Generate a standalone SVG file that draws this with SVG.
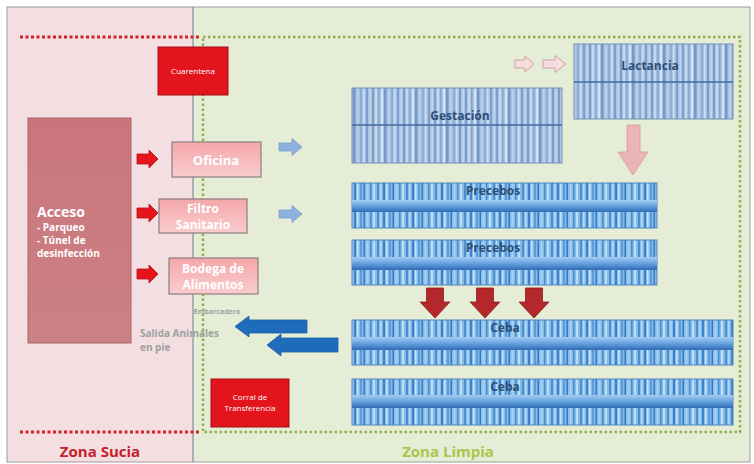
<svg xmlns="http://www.w3.org/2000/svg" width="754" height="464" viewBox="0 0 754 464">
<defs>
<pattern id="stA" patternUnits="userSpaceOnUse" width="31" height="10">
<rect width="31" height="10" fill="#a8c2e2"/>
<rect x="0" width="2" height="10" fill="#7d9fcd"/>
<rect x="3" width="2" height="10" fill="#c6d8ee"/>
<rect x="6" width="1.5" height="10" fill="#86a7d3"/>
<rect x="9" width="2" height="10" fill="#d5e2f2"/>
<rect x="12" width="2.5" height="10" fill="#7398c9"/>
<rect x="16" width="1.5" height="10" fill="#bcd1ea"/>
<rect x="19" width="2" height="10" fill="#8eaed8"/>
<rect x="22" width="1.5" height="10" fill="#d0def0"/>
<rect x="25" width="2" height="10" fill="#7c9ecc"/>
<rect x="28.5" width="1.5" height="10" fill="#c4d6ed"/>
</pattern>
<pattern id="stB" patternUnits="userSpaceOnUse" width="29" height="10">
<rect width="29" height="10" fill="#86bbe8"/>
<rect x="0" width="2" height="10" fill="#4b90d2"/>
<rect x="3" width="1.5" height="10" fill="#b5daf4"/>
<rect x="6" width="2" height="10" fill="#3e83c9"/>
<rect x="9" width="1.5" height="10" fill="#c7e3f7"/>
<rect x="12" width="2" height="10" fill="#5b9dda"/>
<rect x="15.5" width="1.5" height="10" fill="#3479c2"/>
<rect x="18.5" width="2" height="10" fill="#a9d2f1"/>
<rect x="22" width="1.5" height="10" fill="#4a8ed1"/>
<rect x="25" width="2" height="10" fill="#bfdef5"/>
</pattern>
<linearGradient id="band" x1="0" y1="0" x2="0" y2="1">
<stop offset="0" stop-color="#a4ccf0"/>
<stop offset="0.45" stop-color="#6aa6e2"/>
<stop offset="1" stop-color="#2f6cb4"/>
</linearGradient>
<linearGradient id="pinkbox" x1="0" y1="0" x2="0" y2="1">
<stop offset="0" stop-color="#f4a7aa"/>
<stop offset="1" stop-color="#f9cdcf"/>
</linearGradient>
<linearGradient id="acc" x1="0" y1="0" x2="0" y2="1">
<stop offset="0" stop-color="#c9767b"/>
<stop offset="1" stop-color="#cc8185"/>
</linearGradient>
<style>
.t{font-family:"Open Sans","DejaVu Sans",sans-serif;font-weight:bold;}
.w{fill:#ffffff;}
.bt{fill:#2d4e78;font-size:12px;}
.pb{fill:url(#pinkbox);stroke:#8d7d80;stroke-width:1.2;}
.bldA{fill:url(#stA);stroke:#6f8fb8;stroke-width:1;}
.bldB{fill:url(#stB);stroke:#4d86c0;stroke-width:1;}
.rdot{stroke:#d8202a;stroke-width:3;stroke-dasharray:3 2.5;fill:none;}
.gdot{stroke:#8fb04a;stroke-width:2.5;stroke-dasharray:2.5 2.5;fill:none;}
.redA{fill:#e8141c;stroke:#b01015;stroke-width:0.8;}
.lbA{fill:#8db1dd;stroke:#7a9fcf;stroke-width:0.8;}
.pkA{fill:#f7dede;stroke:#c8a2a4;stroke-width:1;}
.drA{fill:#b4282b;stroke:#8e1d20;stroke-width:0.8;}
.blA{fill:#1f6cbd;stroke:#1a5ea6;stroke-width:0.8;}
.gray{fill:#a0a0a0;font-family:"Open Sans","DejaVu Sans",sans-serif;font-weight:bold;}
</style>
</defs>

<g id="background">
<rect x="0" y="0" width="754" height="464" fill="#ffffff"/>
<rect x="7" y="7" width="186" height="455" fill="#f3dfe2"/>
<rect x="193" y="7" width="557" height="455" fill="#e6edd6"/>
<rect x="7" y="7" width="743" height="455" fill="none" stroke="#9a9a9a" stroke-width="1"/>
<line x1="193" y1="7" x2="193" y2="462" stroke="#8a8a9a" stroke-width="1.2"/>
</g>

<g id="zone-boundaries">
<line class="rdot" x1="20" y1="37" x2="200" y2="37"/>
<line class="rdot" x1="20" y1="432" x2="200" y2="432"/>
<polyline class="gdot" points="203,37 740,37 740,432 203,432 203,37"/>
</g>

<g id="zona-sucia"><text class="t" x="100" y="457" font-size="15" fill="#c8202a" text-anchor="middle">Zona Sucia</text></g>
<g id="zona-limpia"><text class="t" x="448" y="457" font-size="15" fill="#a9c64c" text-anchor="middle">Zona Limpia</text></g>

<g id="acceso">
<rect x="28" y="118" width="103" height="225" fill="url(#acc)" stroke="#a86468" stroke-width="1"/>
<text class="t w" x="37" y="217" font-size="14">Acceso</text>
<text class="t w" x="37" y="231" font-size="10">- Parqueo</text>
<text class="t w" x="37" y="244" font-size="10">- Túnel de</text>
<text class="t w" x="37" y="257" font-size="10">desinfección</text>
</g>

<g id="cuarentena">
<rect x="158" y="47" width="70" height="48" fill="#e4141c" stroke="#a01015" stroke-width="1"/>
<text x="193" y="74" font-size="8" fill="#ffffff" text-anchor="middle" font-family="Open Sans, DejaVu Sans, sans-serif">Cuarentena</text>
</g>

<g id="oficina">
<rect class="pb" x="172" y="142" width="89" height="35"/>
<text class="t w" x="216" y="165" font-size="13" text-anchor="middle">Oficina</text>
</g>

<g id="filtro-sanitario">
<rect class="pb" x="159" y="199" width="88" height="34"/>
<text class="t w" x="203" y="213" font-size="12" text-anchor="middle">Filtro</text>
<text class="t w" x="203" y="229" font-size="12" text-anchor="middle">Sanitario</text>
</g>

<g id="bodega">
<rect class="pb" x="169" y="258" width="89" height="36"/>
<text class="t w" x="213" y="273" font-size="12" text-anchor="middle">Bodega de</text>
<text class="t w" x="213" y="289" font-size="12" text-anchor="middle">Alimentos</text>
</g>

<g id="embarcadero">
<text class="gray" x="217" y="314" font-size="7" text-anchor="middle">Embarcadero</text>
</g>
<g id="salida">
<text class="gray" x="140" y="337" font-size="10">Salida Animales</text>
<text class="gray" x="140" y="351" font-size="10">en pie</text>
</g>

<g id="corral">
<rect x="211" y="379" width="78" height="48" fill="#e4141c" stroke="#a01015" stroke-width="1"/>
<text x="250" y="400" font-size="8" fill="#ffffff" text-anchor="middle" font-family="Open Sans, DejaVu Sans, sans-serif">Corral de</text>
<text x="250" y="411" font-size="8" fill="#ffffff" text-anchor="middle" font-family="Open Sans, DejaVu Sans, sans-serif">Transferencia</text>
</g>

<g id="gestacion">
<rect class="bldA" x="352" y="88" width="210" height="75"/>
<line x1="352" y1="125" x2="562" y2="125" stroke="#3f6aa0" stroke-width="1.5"/>
<text class="t bt" x="460" y="120" text-anchor="middle">Gestación</text>
</g>

<g id="lactancia">
<rect class="bldA" x="574" y="44" width="159" height="75"/>
<line x1="574" y1="82" x2="733" y2="82" stroke="#3f6aa0" stroke-width="1.5"/>
<text class="t bt" x="650" y="70" text-anchor="middle">Lactancia</text>
</g>

<g id="precebos-1">
<rect class="bldB" x="352" y="183" width="305" height="45"/>
<rect x="352" y="200" width="305" height="12" fill="url(#band)"/>
<text class="t bt" x="493" y="195" font-size="11" text-anchor="middle">Precebos</text>
</g>

<g id="precebos-2">
<rect class="bldB" x="352" y="240" width="305" height="45"/>
<rect x="352" y="257" width="305" height="13" fill="url(#band)"/>
<text class="t bt" x="493" y="252" font-size="11" text-anchor="middle">Precebos</text>
</g>

<g id="ceba-1">
<rect class="bldB" x="352" y="320" width="381" height="45"/>
<rect x="352" y="337" width="381" height="13" fill="url(#band)"/>
<text class="t bt" x="505" y="332" font-size="11" text-anchor="middle">Ceba</text>
</g>

<g id="ceba-2">
<rect class="bldB" x="352" y="379" width="381" height="46"/>
<rect x="352" y="395" width="381" height="13" fill="url(#band)"/>
<text class="t bt" x="505" y="391" font-size="11" text-anchor="middle">Ceba</text>
</g>

<g id="connectors">
<path class="redA" d="M137,154 H149 V150 L158,159 L149,168 V164 H137 Z"/>
<path class="redA" d="M137,208 H149 V204 L158,213 L149,222 V218 H137 Z"/>
<path class="redA" d="M137,269 H149 V265 L158,274 L149,283 V279 H137 Z"/>
<path class="lbA" d="M279,143 H292 V138.5 L302,147 L292,155.5 V151 H279 Z"/>
<path class="lbA" d="M279,210 H292 V205.5 L302,214 L292,222.5 V218 H279 Z"/>
<path class="pkA" d="M515,60 H525 V56 L534,64 L525,72 V68 H515 Z"/>
<path class="pkA" d="M543,60 H555 V55.5 L566,64 L555,72.5 V68 H543 Z"/>
<path d="M627,125 H640 V152 H648 L633,175 L618,152 H627 Z" fill="#ebb4b6" stroke="#d49a9d" stroke-width="0.8"/>
<path class="drA" d="M426.5,288 H443.5 V302 H450 L435,318 L420,302 H426.5 Z"/>
<path class="drA" d="M476.5,288 H493.5 V302 H500 L485,318 L470,302 H476.5 Z"/>
<path class="drA" d="M525.5,288 H542.5 V302 H549 L534,318 L519,302 H525.5 Z"/>
<path class="blA" d="M307,320 H249 V316 L235,326.5 L249,337 V333 H307 Z"/>
<path class="blA" d="M338,338 H281 V334 L267,345 L281,356 V352 H338 Z"/>
</g>
</svg>
